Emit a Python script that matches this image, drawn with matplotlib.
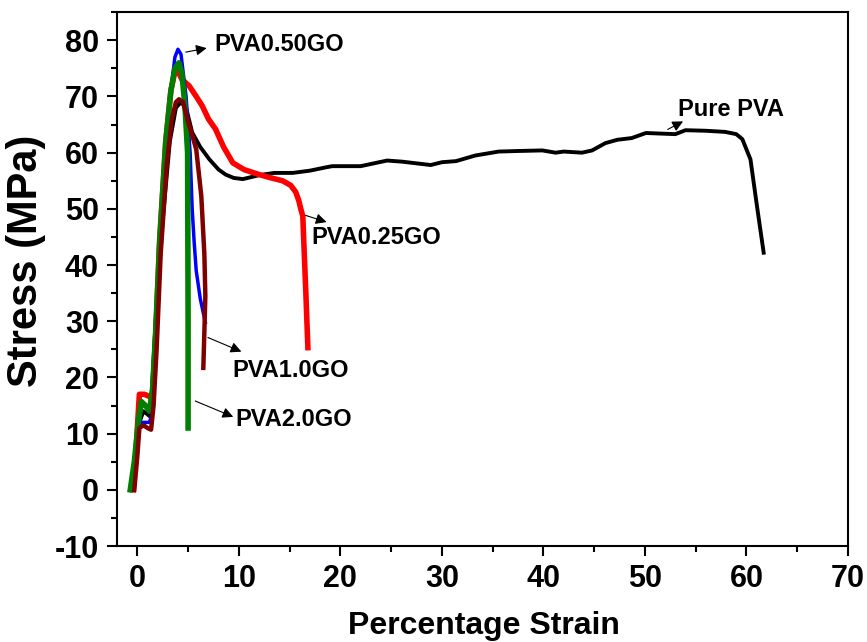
import matplotlib
matplotlib.use("Agg")
import matplotlib.pyplot as plt
from matplotlib.ticker import MultipleLocator

plt.rcParams['font.family'] = ['Liberation Sans', 'DejaVu Sans']
plt.rcParams['font.weight'] = 'bold'
plt.rcParams['axes.unicode_minus'] = False

# stress-strain curves, strain in %, stress in MPa
pure_x = [-0.5, 0.2, 0.6, 1.3, 1.8, 2.5, 3.2, 3.8, 4.3, 4.8, 5.4, 6.2, 7.1, 8.0,
          8.7, 9.5, 10.4, 12.0, 13.5, 15.3, 17.0, 18.6, 19.2, 22.0, 24.6, 26.1,
          27.5, 28.9, 30.0, 31.4, 33.3, 35.6, 37.5, 39.9, 41.2, 42.0, 43.8, 44.8,
          46.1, 47.3, 48.7, 50.1, 53.0, 54.0, 56.0, 57.9, 59.0, 59.6, 60.4, 61.0, 61.7]
pure_y = [0, 12, 14, 13, 30, 48, 62, 68, 69, 68, 63.6, 61, 58.8, 57,
          56.1, 55.5, 55.3, 56.0, 56.4, 56.4, 56.8, 57.4, 57.6, 57.6, 58.6, 58.4,
          58.1, 57.8, 58.3, 58.5, 59.5, 60.2, 60.3, 60.4, 60.0, 60.2, 60.0, 60.4,
          61.7, 62.3, 62.6, 63.5, 63.3, 64.0, 63.9, 63.7, 63.3, 62.4, 58.8, 51, 42.2]

go025_x = [-0.4, -0.1, 0.2, 0.7, 1.2, 1.45, 1.6, 1.8, 2.2, 2.8, 3.3, 3.7, 4.0, 4.4,
           5.1, 5.8, 6.4, 7.0, 7.7, 8.5, 9.4, 10.5, 12.0, 13.2, 14.3, 15.1, 15.6,
           15.9, 16.1, 16.3, 16.4, 16.6, 16.8]
go025_y = [0, 8, 17, 17, 16.6, 16, 20, 27, 44.6, 62, 71, 74.5, 74.5, 73,
           71.9, 70, 68.3, 66, 64.2, 61.0, 58.2, 57.0, 56.1, 55.5, 55.0, 54.2, 53.0,
           51.5, 50, 48.7, 44, 35, 25.3]

go050_x = [-0.5, -0.2, 0.2, 0.6, 1.2, 1.5, 1.8, 2.2, 2.8, 3.3, 3.7, 4.0, 4.3, 4.8,
           5.2, 5.4, 5.6, 5.8, 6.2, 6.7]
go050_y = [0, 6, 12, 12, 12, 14, 25, 42, 60, 71, 77, 78.4, 77.5, 70,
           60, 50, 44, 39, 34, 29.8]

go10_x = [-0.3, 0.0, 0.2, 0.6, 1.0, 1.35, 1.6, 1.9, 2.3, 2.9, 3.4, 3.8, 4.1, 4.5,
          5.0, 5.5, 5.8, 6.3, 6.6, 6.7, 6.6, 6.5]
go10_y = [0, 6, 11, 11.5, 11, 10.7, 15, 25, 42, 58, 66, 69, 69.5, 69,
          65.5, 62.5, 60.6, 52.3, 42, 34.5, 28, 21.7]

go20_x = [-0.7, -0.3, 0.1, 0.4, 0.8, 1.2, 1.5, 1.8, 2.2, 2.8, 3.3, 3.7, 4.1, 4.4,
          4.7, 4.95, 5.0, 5.0]
go20_y = [0, 5, 12, 15.7, 15, 14, 18, 28, 44, 62, 71, 75, 76, 74,
          68, 60, 30, 11]

fig = plt.figure(figsize=(8.67, 6.42), dpi=100)
ax = fig.add_axes([0.135, 0.1495, 0.843, 0.8315])

ax.plot(pure_x, pure_y, color='black', lw=2.8, solid_joinstyle='round')
ax.plot(go025_x, go025_y, color='red', lw=4.0, solid_joinstyle='round')
ax.plot(go050_x, go050_y, color='blue', lw=2.5, solid_joinstyle='round')
ax.plot(go20_x, go20_y, color='green', lw=4.0, solid_joinstyle='round')
ax.plot(go10_x, go10_y, color='#800000', lw=3.2, solid_joinstyle='round')

# labels with arrows pointing at each curve
arrow = dict(arrowstyle='-|>', color='black', lw=0.8, mutation_scale=16)
notes = [
    ('PVA0.50GO', (4.5, 77.8), (7.1, 78.7), (7.6, 79.3)),
    ('Pure PVA', (52.0, 63.9), (54.0, 65.8), (53.3, 67.7)),
    ('PVA0.25GO', (16.3, 49.0), (18.9, 47.5), (17.1, 44.9)),
    ('PVA1.0GO', (6.7, 27.3), (10.5, 24.4), (9.35, 21.2)),
    ('PVA2.0GO', (5.45, 16.0), (9.7, 12.8), (9.7, 12.5)),
]
for label, tail, head, pos in notes:
    ax.annotate('', xy=head, xytext=tail, arrowprops=arrow)
    ax.text(pos[0], pos[1], label, fontsize=17, fontweight='bold',
            ha='left', va='center')

ax.set_xlim(-2, 70)
ax.set_ylim(-10, 85)
ax.xaxis.set_major_locator(MultipleLocator(10))
ax.xaxis.set_minor_locator(MultipleLocator(5))
ax.yaxis.set_major_locator(MultipleLocator(10))
ax.yaxis.set_minor_locator(MultipleLocator(5))
ax.tick_params(which='both', direction='out', width=1.5, top=False, right=False)
ax.tick_params(which='major', length=7, labelsize=22, pad=6)
ax.tick_params(which='minor', length=4)
for lab in ax.get_xticklabels() + ax.get_yticklabels():
    lab.set_fontweight('bold')
for sp in ax.spines.values():
    sp.set_linewidth(1.5)

ax.set_xlabel('Percentage Strain', fontsize=23, fontweight='bold')
ax.set_ylabel('Stress (MPa)', fontsize=30, fontweight='bold')
ax.xaxis.set_label_coords(0.502, -0.122)
ax.yaxis.set_label_coords(-0.097, 0.534)

fig.savefig('out.png', dpi=100)
